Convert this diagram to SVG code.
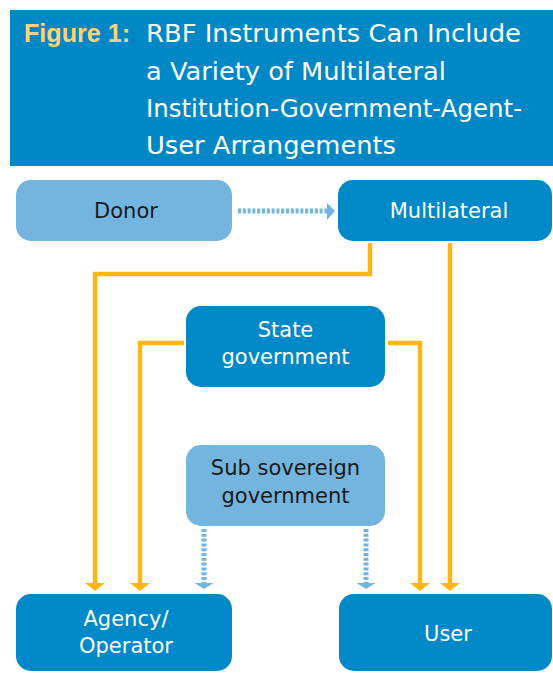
<svg xmlns="http://www.w3.org/2000/svg" width="553" height="679" viewBox="0 0 553 679">
<style>
.dark{fill:#0089C8}
.light{fill:#73B5DF}
.lbl{font-family:"DejaVu Sans","Liberation Sans",sans-serif;font-size:21px;text-anchor:middle}
.w{fill:#ffffff}
.k{fill:#1a1a1a}
.title{font-family:"DejaVu Sans","Liberation Sans",sans-serif;font-size:25px;fill:#ffffff}
.fig{font-family:"Liberation Sans",sans-serif;font-weight:bold;font-size:25px;fill:#FDD27E}
.or{fill:none;stroke:#FDB714;stroke-width:4.5}
.bl{fill:none;stroke:#73B5DF;stroke-width:5;stroke-dasharray:3 1.8}
.orh{fill:#FDB714}
.blh{fill:#73B5DF}
</style>
<rect x="0" y="0" width="553" height="679" fill="#ffffff"/>
<g id="title">
<rect x="10" y="10" width="543" height="156" fill="#0088C6"/>
<text class="fig" x="24" y="42" textLength="106" lengthAdjust="spacingAndGlyphs">Figure 1:</text>
<text class="title" x="146" y="42" textLength="375" lengthAdjust="spacingAndGlyphs">RBF Instruments Can Include</text>
<text class="title" x="146" y="80" textLength="300" lengthAdjust="spacingAndGlyphs">a Variety of Multilateral</text>
<text class="title" x="146" y="117" textLength="376" lengthAdjust="spacingAndGlyphs">Institution-Government-Agent-</text>
<text class="title" x="146" y="154" textLength="250" lengthAdjust="spacingAndGlyphs">User Arrangements</text>
</g>
<g id="connectors">
<path class="bl" d="M238,211 H327"/>
<polygon class="blh" points="327,203 335,211 327,220"/>
<path class="or" d="M370,243 V274 H95 V584"/>
<polygon class="orh" points="85,583 105,583 95,591"/>
<path class="or" d="M450,243 V584"/>
<polygon class="orh" points="440,583 460,583 450,591"/>
<path class="or" d="M184,343 H140 V584"/>
<polygon class="orh" points="130,583 150,583 140,591"/>
<path class="or" d="M388,343 H420 V584"/>
<polygon class="orh" points="410,583 430,583 420,591"/>
<path class="bl" d="M204,529 V583"/>
<polygon class="blh" points="194.5,583 213.5,583 204,589"/>
<path class="bl" d="M366,529 V583"/>
<polygon class="blh" points="356.5,583 375.5,583 366,589"/>
</g>
<g id="donor">
<rect class="light" x="16" y="180" width="216" height="61" rx="15"/>
<text class="lbl k" x="126" y="218">Donor</text>
</g>
<g id="multilateral">
<rect class="dark" x="338" y="180" width="214" height="61" rx="15"/>
<text class="lbl w" x="449" y="218">Multilateral</text>
</g>
<g id="state">
<rect class="dark" x="186" y="306" width="199" height="81" rx="15"/>
<text class="lbl w" x="285.5" y="337">State</text>
<text class="lbl w" x="285.5" y="364">government</text>
</g>
<g id="subsovereign">
<rect class="light" x="186" y="445" width="199" height="81" rx="15"/>
<text class="lbl k" x="285.5" y="475">Sub sovereign</text>
<text class="lbl k" x="285.5" y="503">government</text>
</g>
<g id="agency">
<rect class="dark" x="16" y="594" width="216" height="77" rx="15"/>
<text class="lbl w" x="126" y="626">Agency/</text>
<text class="lbl w" x="126" y="653">Operator</text>
</g>
<g id="user">
<rect class="dark" x="339" y="594" width="213" height="77" rx="15"/>
<text class="lbl w" x="448" y="641">User</text>
</g>
</svg>
